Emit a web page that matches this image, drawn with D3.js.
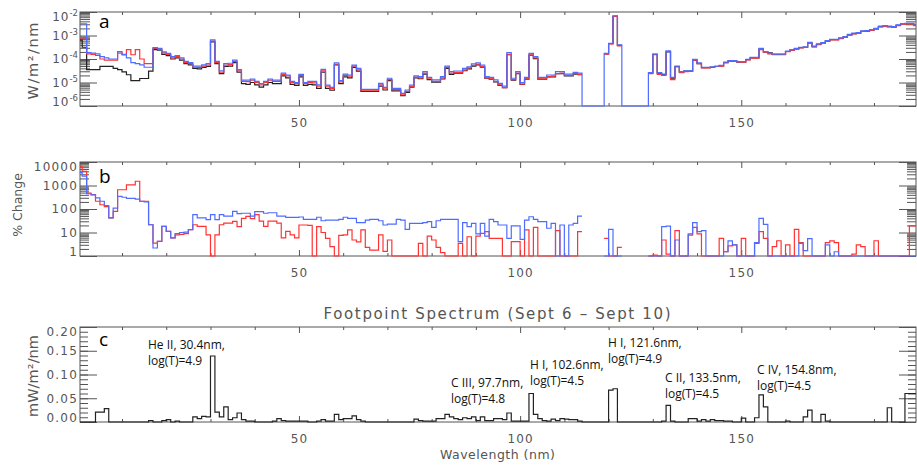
<!DOCTYPE html>
<html>
<head>
<meta charset="utf-8">
<script src="https://cdn.jsdelivr.net/npm/d3@7"></script>
<style>
  body { margin: 0; background: #fff; }
  svg { display: block; }
</style>
</head>
<body>
<svg id="chart" width="917" height="465"></svg>
<script>
// 1 nm wavelength bins, bin i covers [i, i+1] nm (first and last are cut by the axis range)
const binStart = d3.range(0, 190);

// panel a: irradiance, log10(W/m^2/nm); null = no data
const logIrrBlack = [
  -3.2, -3.5, -4.45, -4.45, -4.45, -4.31, -4.31, -4.31, -4.4, -4.45,
  -4.55, -4.67, -4.92, -4.92, -4.83, -4.83, -4.52, -3.6, -3.62, -3.8,
  -3.86, -4.0, -3.95, -4.05, -4.2, -4.25, -4.4, -4.42, -4.36, -4.32,
  -3.27, -4.2, -4.62, -4.32, -4.3, -4.15, -4.56, -5.05, -5.08, -5.0,
  -5.1, -5.2, -5.1, -5.0, -5.05, -5.05, -4.72, -4.8, -5.08, -5.12,
  -4.76, -5.12, -5.08, -5.1, -5.25, -4.56, -5.25, -5.33, -4.25, -5.05,
  -4.76, -4.8, -4.36, -4.52, -5.38, -5.38, -5.38, -5.38, -5.15, -5.32,
  -4.92, -5.36, -5.36, -5.56, -5.42, -5.2, -4.8, -4.84, -4.64, -4.88,
  -4.98, -4.98, -4.85, -4.4, -4.65, -4.6, -4.6, -4.5, -4.42, -4.3,
  -4.25, -4.35, -4.82, -4.86, -4.97, -5.12, -5.22, -3.82, -4.9, -4.62,
  -5.08, -4.86, -3.84, -3.98, -4.86, -4.86, -4.76, -4.76, -4.62, -4.62,
  -4.72, -4.72, -4.64, -4.67, null, null, null, null, null, -3.78,
  -3.35, -2.18, -3.42, null, null, null, null, null, null, -4.6,
  -3.8, -4.6, -4.66, -3.7, -4.82, -4.32, -4.56, -4.52, -4.52, -4.05,
  -4.2, -4.37, -4.37, -4.35, -4.32, -4.29, -4.15, -4.09, -4.09, -4.13,
  -4.13, -4.03, -3.95, -3.95, -3.58, -3.7, -3.74, -3.8, -3.8, -3.8,
  -3.68, -3.62, -3.57, -3.52, -3.5, -3.31, -3.47, -3.38, -3.32, -3.24,
  -3.18, -3.18, -3.12, -3.07, -2.97, -2.92, -2.9, -2.82, -2.81, -2.77,
  -2.72, -2.62, -2.6, -2.62, -2.64, -2.57, -2.52, -2.5, -2.5, -2.57
];
const logIrrRed = [
  -3.1, -3.1, -3.78, -3.8, -3.85, -4.0, -4.05, -4.05, -4.05, -3.69,
  -3.83, -3.6, -3.82, -3.6, -4.0, -4.2, -4.2, -3.55, -3.58, -3.74,
  -3.8, -3.95, -3.9, -4.0, -4.15, -4.2, -4.35, -4.36, -4.3, -4.26,
  -3.24, -4.15, -4.56, -4.26, -4.24, -4.1, -4.5, -4.95, -4.96, -4.9,
  -5.0, -5.1, -5.0, -4.9, -4.95, -4.95, -4.65, -4.72, -5.0, -5.05,
  -4.7, -5.05, -5.0, -5.02, -5.15, -4.5, -5.16, -5.26, -4.22, -4.97,
  -4.7, -4.73, -4.3, -4.46, -5.35, -5.35, -5.35, -5.35, -5.1, -5.27,
  -4.88, -5.3, -5.3, -5.53, -5.38, -5.17, -4.77, -4.8, -4.6, -4.84,
  -4.95, -4.95, -4.8, -4.36, -4.6, -4.57, -4.57, -4.46, -4.38, -4.27,
  -4.22, -4.32, -4.8, -4.84, -4.96, -5.1, -5.22, -3.8, -4.88, -4.6,
  -5.07, -4.84, -3.82, -3.95, -4.84, -4.84, -4.76, -4.73, -4.62, -4.6,
  -4.7, -4.7, -4.62, -4.65, null, null, null, null, null, -3.79,
  -3.36, -2.19, -3.44, null, null, null, null, null, null, -4.62,
  -3.82, -4.65, -4.7, -3.68, -4.88, -4.34, -4.58, -4.54, -4.53, -4.05,
  -4.2, -4.38, -4.38, -4.35, -4.32, -4.3, -4.16, -4.1, -4.1, -4.13,
  -4.14, -4.04, -3.96, -3.96, -3.6, -3.72, -3.78, -3.82, -3.82, -3.82,
  -3.69, -3.63, -3.58, -3.53, -3.51, -3.33, -3.48, -3.39, -3.33, -3.25,
  -3.19, -3.19, -3.13, -3.08, -2.98, -2.93, -2.91, -2.83, -2.82, -2.78,
  -2.73, -2.63, -2.61, -2.63, -2.65, -2.58, -2.53, -2.51, -2.51, -2.58
];
// blue drops to the 1e-6 floor where there is no signal
const logIrrBlue = [
  -2.5, -2.5, -3.73, -3.75, -3.78, -3.9, -3.95, -4.0, -4.0, -3.75,
  -3.8, -3.95, -4.15, -4.2, -4.25, -4.35, -4.35, -3.52, -3.55, -3.7,
  -3.76, -3.9, -3.85, -3.95, -4.1, -4.15, -4.3, -4.3, -4.25, -4.2,
  -3.19, -4.1, -4.5, -4.2, -4.18, -4.05, -4.45, -4.9, -4.9, -4.85,
  -4.95, -5.05, -4.95, -4.85, -4.9, -4.9, -4.6, -4.68, -4.95, -5.0,
  -4.65, -5.0, -4.95, -4.95, -5.1, -4.44, -5.11, -5.21, -4.16, -4.92,
  -4.64, -4.68, -4.26, -4.4, -5.29, -5.29, -5.29, -5.29, -5.04, -5.21,
  -4.82, -5.25, -5.25, -5.46, -5.32, -5.11, -4.72, -4.75, -4.54, -4.78,
  -4.89, -4.89, -4.75, -4.3, -4.54, -4.51, -4.51, -4.4, -4.33, -4.21,
  -4.16, -4.26, -4.75, -4.78, -4.89, -5.04, -5.15, -3.73, -4.82, -4.54,
  -5.0, -4.78, -3.76, -3.9, -4.78, -4.78, -4.68, -4.68, -4.54, -4.54,
  -4.64, -4.64, -4.57, -4.6, -6, -6, -6, -6, -6, -3.76,
  -3.33, -2.16, -3.4, -6, -6, -6, -6, -6, -6, -4.58,
  -3.79, -4.58, -4.64, -3.65, -4.78, -4.3, -4.54, -4.5, -4.5, -4.01,
  -4.16, -4.35, -4.35, -4.33, -4.3, -4.27, -4.13, -4.07, -4.07, -4.11,
  -4.11, -4.01, -3.93, -3.93, -3.55, -3.69, -3.76, -3.79, -3.79, -3.79,
  -3.66, -3.6, -3.55, -3.5, -3.48, -3.29, -3.45, -3.36, -3.3, -3.22,
  -3.16, -3.16, -3.1, -3.05, -2.95, -2.9, -2.88, -2.8, -2.79, -2.75,
  -2.7, -2.6, -2.58, -2.6, -2.62, -2.55, -2.5, -2.48, -2.48, -2.55
];

// panel b: log10(% change); 0 = at or below 1 %, null = no data
const logPctRed = [
  3.82, 3.6, 2.68, 2.61, 2.33, 2.18, 2.1, 1.62, 1.9, 2.82,
  2.82, 3.03, 3.03, 3.18, 2.33, 2.33, 1.33, 0.55, 0.62, 1.26,
  1.05, 0.77, 0.9, 0.92, 0.95, 1.12, 1.33, 1.26, 1.26, 0.9,
  0, 0.9, 1.33, 1.4, 1.4, 1.47, 1.25, 1.6, 1.69, 1.59,
  1.76, 1.48, 1.26, 1.48, 1.48, 1.4, 0.77, 1.05, 0.9, 0.77,
  1.32, 1.32, 1.3, 0, 1.25, 1.0, 0.75, 0.4, 0, 0.88,
  0.9, 1.11, 0.68, 0.6, 1.11, 0.37, 0.25, 0.25, 0.9, 0.2,
  0.68, 0, 0, 0, 0, 0, 0, 0.54, 0, 0.85,
  0.68, 0.37, 0.14, 0, 0, 0, 0.54, 0, 0.82, 0,
  0.85, 0.96, 1.04, 0.75, 0.75, 0.75, 0, 0, 0.61, 0.61,
  0, 1.11, 0, 1.22, 0, 0, 0, 0, 1.08, 0,
  0, 0, 0, 1.04, null, null, null, null, null, 0.75,
  0, 0, 0.37, null, null, null, null, null, null, 0,
  0.04, 0, 0.68, 0.08, 0, 1.08, 0, 0, 0.89, 1.22,
  0.94, 0, 0, 0, 0, 0.75, 0.18, 0.43, 0.47, 0,
  0.75, 0, 0, 0.54, 1.04, 0.75, 0, 0.4, 0.65, 0,
  0.47, 0, 1.13, 0.57, 0, 0, 0, 0, 0, 0.57,
  0.64, 0.57, 0, 0, 0, 0.08, 0.47, 0.4, 0, 0,
  0.65, 0, 0, 0, 0, 0, 0, 0, 1.28, 1.28
];
const logPctBlue = [
  3.55, 3.4, 2.65, 2.6, 2.47, 2.33, 2.15, 1.62, 2.04, 2.54,
  2.5, 2.45, 2.45, 2.42, 2.33, 2.3, 1.33, 0.34, 0.62, 1.26,
  1.05, 0.77, 0.95, 1.0, 1.02, 1.12, 1.76, 1.62, 1.62, 1.55,
  1.76, 1.55, 1.76, 1.7, 1.7, 1.9, 1.8, 1.82, 1.82, 1.7,
  1.89, 1.89, 1.82, 1.84, 1.84, 1.7, 1.7, 1.64, 1.64, 1.64,
  1.66, 1.56, 1.56, 1.56, 1.65, 1.5, 1.53, 1.53, 1.53, 1.56,
  1.65, 1.6, 1.6, 1.42, 1.42, 1.53, 1.56, 1.56, 1.5, 1.32,
  1.36, 1.36, 1.56, 1.53, 1.13, 1.39, 1.39, 1.39, 1.42, 1.46,
  1.22, 1.5, 1.56, 1.56, 1.56, 1.56, 0.61, 1.42, 1.25, 1.39,
  0.94, 1.39, 0.85, 1.56, 1.46, 1.32, 1.32, 0.75, 1.28, 1.28,
  0.71, 1.53, 1.67, 1.56, 1.46, 1.46, 1.18, 1.39, 0, 1.32,
  0, 1.32, 1.39, 1.7, null, null, null, null, null, 0,
  1.13, 0, 0, null, null, null, null, null, null, 0,
  0, 0, 1.25, 1.27, 0, 0.68, 0, 0, 0.94, 1.42,
  1.04, 1.08, 0, 0, 0, 0, 0.18, 0.64, 0.47, 0,
  0, 0, 0, 0.57, 1.6, 1.35, 0, 0, 0, 0,
  0, 0, 0, 0.54, 0.23, 0.74, 0, 0, 0, 0.47,
  0, 0.18, 0, 0, 0, 0, 0, 0, 0, 0,
  0, 0, 0, 0, 0, 0, 0, 0, 0, 0
];

// panel c: footpoint spectrum, mW/m^2/nm
const footpoint = [
  0, 0, 0, 0, 0.021, 0.021, 0.028, 0, 0, 0,
  0, 0, 0, 0, 0, 0, 0.003, 0, 0, 0.003,
  0.005, 0, 0.002, 0, 0, 0, 0.011, 0.007, 0.012, 0.011,
  0.139, 0.021, 0.011, 0.032, 0.005, 0.009, 0.019, 0.005, 0.002, 0.002,
  0, 0, 0, 0, 0.002, 0.007, 0.003, 0.002, 0.002, 0.002,
  0.002, 0.002, 0, 0, 0.002, 0.005, 0.002, 0.002, 0.016, 0.005,
  0.007, 0.007, 0.013, 0.005, 0.002, 0, 0, 0, 0, 0,
  0, 0, 0, 0, 0, 0, 0.006, 0.003, 0.002, 0.002,
  0.002, 0.007, 0.007, 0.016, 0.011, 0.007, 0.005, 0.009, 0.007, 0.011,
  0.003, 0.011, 0.003, 0.003, 0.007, 0.007, 0.005, 0.019, 0.002, 0.002,
  0.002, 0.002, 0.06, 0.016, 0.007, 0.003, 0.002, 0.006, 0.003, 0.007,
  0.006, 0.005, 0.005, 0.002, 0, 0, 0, 0, 0, 0,
  0.067, 0.07, 0, 0, 0, 0, 0, 0, 0, 0,
  0, 0, 0.002, 0.035, 0.002, 0, 0, 0, 0.007, 0.007,
  0.002, 0.005, 0.002, 0.005, 0.003, 0.003, 0.002, 0.002, 0, 0,
  0.008, 0, 0, 0.009, 0.057, 0.032, 0, 0, 0, 0,
  0.002, 0, 0, 0, 0.011, 0.025, 0, 0, 0.016, 0.002,
  0, 0, 0, 0, 0, 0, 0, 0, 0, 0,
  0, 0, 0, 0.03, 0, 0, 0, 0.06, 0.06, 0.06
];

const lineLabels = [
  { x: 148, y: 349, lines: ["He II, 30.4nm,", "log(T)=4.9"] },
  { x: 451, y: 387, lines: ["C III, 97.7nm,", "log(T)=4.8"] },
  { x: 530, y: 369, lines: ["H I, 102.6nm,", "log(T)=4.5"] },
  { x: 608, y: 347, lines: ["H I, 121.6nm,", "log(T)=4.9"] },
  { x: 665, y: 382, lines: ["C II, 133.5nm,", "log(T)=4.5"] },
  { x: 757, y: 374, lines: ["C IV, 154.8nm,", "log(T)=4.5"] }
];

const xMajor = [50, 100, 150];
const xMinor = [10, 20, 30, 40, 60, 70, 80, 90, 110, 120, 130, 140, 160, 170, 180];
const irrTicks = [1e-6, 1e-5, 1e-4, 1e-3, 1e-2];
const irrTickExp = ["-6", "-5", "-4", "-3", "-2"];
const pctTicks = [1, 10, 100, 1000, 10000];
const pctTickLabels = ["1", "10", "100", "1000", "10000"];
const fpTicks = [0, 0.05, 0.1, 0.15, 0.2];
const fpTickLabels = ["0.00", "0.05", "0.10", "0.15", "0.20"];

const svg = d3.select("#chart");
const axisFont = "'DejaVu Sans', sans-serif";
const noteFont = "'Open Sans', 'Liberation Sans', sans-serif";
const axisGray = "#555";
const blue = "#4f6cff";
const red = "#ff3333";

const x = d3.scaleLinear().domain([0.5, 189.5]).range([80, 916]);
const yA = d3.scaleLog().domain([1e-6, 1e-2]).range([106, 12]).clamp(true);
const yB = d3.scaleLog().domain([1, 10000]).range([256, 162]).clamp(true);
const yC = d3.scaleLinear().domain([0, 0.2]).range([422, 327]).clamp(true);

// minor ticks of a log axis: 2..9 in each decade
const logMinor = (lo, hi) => {
    const out = [];
    for (let d = lo; d < hi; d++) {
        for (let k = 2; k <= 9; k++) out.push(k * Math.pow(10, d));
    }
    return out;
};

// frame, ticks on all four sides, x tick labels
function drawFrame(y, majorY, minorY, minorLen) {
    const [x0, x1] = x.range();
    const [bottom, top] = y.range();
    const g = svg.append("g");
    const clean = (sel) => {
        sel.select(".domain").remove();
        sel.selectAll("text").remove();
        sel.selectAll(".tick line").attr("stroke", axisGray).attr("stroke-width", 1);
    };

    [[d3.axisLeft, x0], [d3.axisRight, x1]].forEach(([axisFn, px]) => {
        g.append("g").attr("transform", `translate(${px},0)`)
            .call(axisFn(y).tickValues(minorY).tickSizeInner(-minorLen).tickSizeOuter(0))
            .call(clean);
        g.append("g").attr("transform", `translate(${px},0)`)
            .call(axisFn(y).tickValues(majorY).tickSizeInner(-17).tickSizeOuter(0))
            .call(clean);
    });
    [[d3.axisBottom, bottom], [d3.axisTop, top]].forEach(([axisFn, py]) => {
        g.append("g").attr("transform", `translate(0,${py})`)
            .call(axisFn(x).tickValues(xMinor).tickSizeInner(-3).tickSizeOuter(0))
            .call(clean);
        g.append("g").attr("transform", `translate(0,${py})`)
            .call(axisFn(x).tickValues(xMajor).tickSizeInner(-6).tickSizeOuter(0))
            .call(clean);
    });

    g.append("rect")
        .attr("x", x0).attr("y", top)
        .attr("width", x1 - x0).attr("height", bottom - top)
        .attr("fill", "none").attr("stroke", axisGray).attr("stroke-width", 1);

    g.selectAll(".xlab").data(xMajor).enter().append("text")
        .attr("x", (d) => x(d) + 0.6)
        .attr("y", bottom + 21)
        .attr("text-anchor", "middle")
        .attr("font-family", axisFont).attr("font-size", 12)
        .attr("letter-spacing", 1.2)
        .attr("fill", axisGray)
        .text((d) => d);
    return g;
}

// y tick labels, kept inside the frame at the ends
function yLabelPos(y, v) {
    const [bottom, top] = y.range();
    return Math.max(top + 4.5, Math.min(bottom - 4.5, y(v))) + 4.3;
}

function clipFor(id, y) {
    const [bottom, top] = y.range();
    svg.append("clipPath").attr("id", id).append("rect")
        .attr("x", x.range()[0]).attr("y", top - 1)
        .attr("width", x.range()[1] - x.range()[0]).attr("height", bottom - top + 2);
    return `url(#${id})`;
}

function drawSteps(g, values, y, color, width) {
    const pts = [];
    values.forEach((v, i) => {
        const a = Math.max(binStart[i], x.domain()[0]);
        const b = Math.min(binStart[i] + 1, x.domain()[1]);
        pts.push({ w: a, v: v }, { w: b, v: v });
    });
    const line = d3.line()
        .defined((d) => d.v !== null)
        .x((d) => x(d.w))
        .y((d) => y(d.v));
    g.append("path")
        .attr("d", line(pts))
        .attr("fill", "none")
        .attr("stroke", color)
        .attr("stroke-width", width)
        .attr("stroke-linejoin", "miter");
}

const fromLog = (arr) => arr.map((v) => (v === null ? null : Math.pow(10, v)));

// ---------- panel a ----------
drawFrame(yA, irrTicks, logMinor(-6, -2), 10);
const gA = svg.append("g").attr("clip-path", clipFor("clipA", yA));
drawSteps(gA, fromLog(logIrrBlack), yA, "#222", 1.2);
drawSteps(gA, fromLog(logIrrRed), yA, red, 1.2);
drawSteps(gA, fromLog(logIrrBlue), yA, blue, 1.2);

irrTicks.forEach((v, i) => {
    const t = svg.append("text")
        .attr("x", 78).attr("y", yLabelPos(yA, v))
        .attr("text-anchor", "end")
        .attr("font-family", axisFont).attr("font-size", 12)
        .attr("fill", axisGray);
    t.append("tspan").attr("letter-spacing", 1).text("10");
    t.append("tspan").attr("font-size", 8.5).attr("dy", -5).text(irrTickExp[i]);
});

// ---------- panel b ----------
drawFrame(yB, pctTicks, logMinor(0, 4), 9);
const gB = svg.append("g").attr("clip-path", clipFor("clipB", yB));
drawSteps(gB, fromLog(logPctRed), yB, red, 1.2);
drawSteps(gB, fromLog(logPctBlue), yB, blue, 1.2);

pctTicks.forEach((v, i) => {
    svg.append("text")
        .attr("x", 78).attr("y", yLabelPos(yB, v))
        .attr("text-anchor", "end")
        .attr("font-family", axisFont).attr("font-size", 12)
        .attr("letter-spacing", 1.2)
        .attr("fill", axisGray)
        .text(pctTickLabels[i]);
});

// ---------- panel c ----------
drawFrame(yC, fpTicks, d3.range(1, 20).map((k) => k / 100), 8);
const gC = svg.append("g").attr("clip-path", clipFor("clipC", yC));
drawSteps(gC, footpoint, yC, "#222", 1.2);

fpTicks.forEach((v, i) => {
    svg.append("text")
        .attr("x", 78).attr("y", yLabelPos(yC, v))
        .attr("text-anchor", "end")
        .attr("font-family", axisFont).attr("font-size", 12)
        .attr("letter-spacing", 1.2)
        .attr("fill", axisGray)
        .text(fpTickLabels[i]);
});

// line annotations
lineLabels.forEach((lab) => {
    lab.lines.forEach((s, j) => {
        svg.append("text")
            .attr("x", lab.x).attr("y", lab.y + j * 16)
            .attr("font-family", noteFont).attr("font-size", 12)
            .attr("fill", "#111")
            .text(s);
    });
});

// panel letters
[["a", 28], ["b", 183], ["c", 346]].forEach(([s, yy]) => {
    svg.append("text")
        .attr("x", 99).attr("y", yy)
        .attr("font-family", noteFont).attr("font-size", 19)
        .attr("fill", "#000")
        .text(s);
});

// axis titles
const yTitle = (txt, cx, cy, size, len) => {
    const t = svg.append("text")
        .attr("transform", `translate(${cx},${cy}) rotate(-90)`)
        .attr("text-anchor", "middle")
        .attr("font-family", axisFont).attr("font-size", size)
        .attr("fill", axisGray)
        .text(txt);
    if (len) t.attr("textLength", len).attr("lengthAdjust", "spacing");
};
yTitle("W/m²/nm", 38, 61, 14.5, 77);
yTitle("% Change", 22, 205, 12.5, null);
yTitle("mW/m²/nm", 38, 376, 14.5, 82);

svg.append("text")
    .attr("x", 497).attr("y", 318.5)
    .attr("text-anchor", "middle")
    .attr("font-family", axisFont).attr("font-size", 15)
    .attr("textLength", 347).attr("lengthAdjust", "spacing")
    .attr("fill", axisGray)
    .text("Footpoint Spectrum (Sept 6 – Sept 10)");

svg.append("text")
    .attr("x", 497.5).attr("y", 459)
    .attr("text-anchor", "middle")
    .attr("font-family", axisFont).attr("font-size", 12.5)
    .attr("textLength", 115).attr("lengthAdjust", "spacing")
    .attr("fill", axisGray)
    .text("Wavelength (nm)");
</script>
</body>
</html>
